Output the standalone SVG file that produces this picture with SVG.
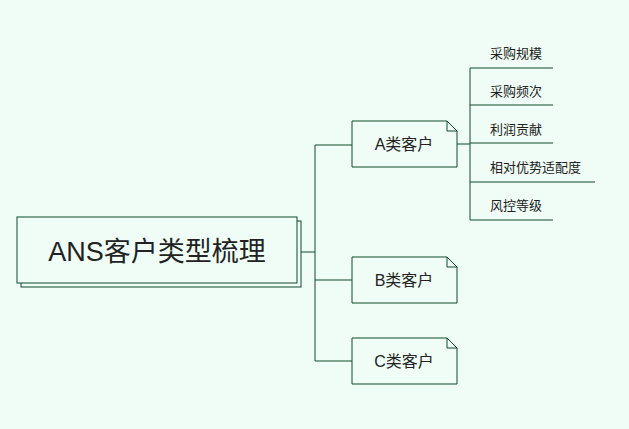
<svg xmlns="http://www.w3.org/2000/svg" width="629" height="429" viewBox="0 0 629 429">
<style>
.ln{stroke:#0f4a2c;stroke-width:1;fill:none}
.bx{fill:#effdf6;stroke:#0f4a2c;stroke-width:1}
text{font-family:"Liberation Sans","Noto Sans CJK SC",sans-serif;fill:#222}
.n{font-size:16px}
.l{font-size:13px}
</style>
<rect width="629" height="429" fill="#effdf6"/>
<g id="connectors">
<path class="ln" d="M297,252H315M315,145V361M315,145H352M315,280H352M315,361H352M457,144H470M470,68V220M470,68H553M470,105H553M470,143H553M470,182H595M470,220H553"/>
</g>
<g id="root">
<rect class="bx" x="21" y="221" width="280" height="66"/>
<rect class="bx" x="17" y="217" width="280" height="66"/>
<text x="157" y="261" font-size="27" text-anchor="middle">ANS客户类型梳理</text>
</g>
<g id="A"><path class="bx" d="M352,121H447L457,131V167H352Z"/><path class="ln" d="M447,121V131H457"/><text class="n" x="404" y="150" text-anchor="middle">A类客户</text></g>
<g id="B"><path class="bx" d="M352,257H447L457,267V303H352Z"/><path class="ln" d="M447,257V267H457"/><text class="n" x="404" y="286" text-anchor="middle">B类客户</text></g>
<g id="C"><path class="bx" d="M352,338H447L457,348V384H352Z"/><path class="ln" d="M447,338V348H457"/><text class="n" x="404" y="367" text-anchor="middle">C类客户</text></g>
<g id="l1"><text class="l" x="490" y="58">采购规模</text></g>
<g id="l2"><text class="l" x="490" y="96">采购频次</text></g>
<g id="l3"><text class="l" x="490" y="134">利润贡献</text></g>
<g id="l4"><text class="l" x="490" y="172">相对优势适配度</text></g>
<g id="l5"><text class="l" x="490" y="210">风控等级</text></g>
</svg>
